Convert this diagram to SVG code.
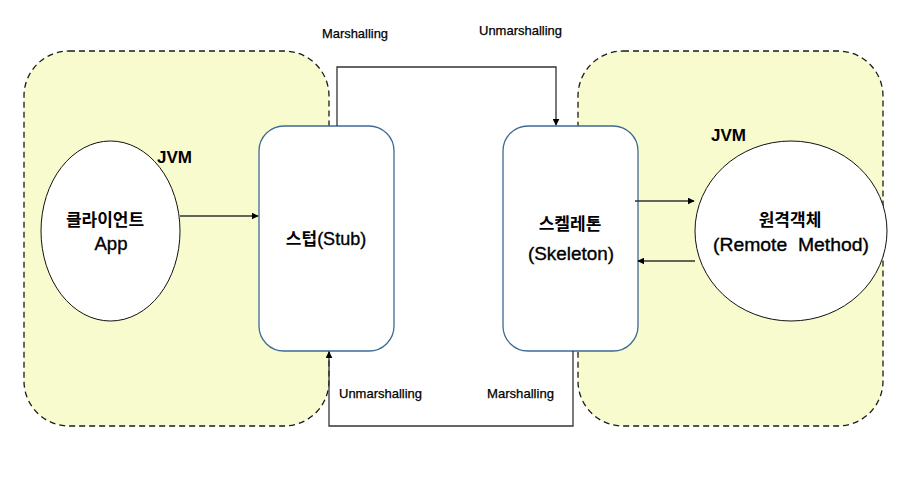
<svg xmlns="http://www.w3.org/2000/svg" width="919" height="477" viewBox="0 0 919 477">
<style>
.jvm{fill:#f8fbcd;stroke:#1a1a1a;stroke-width:1.3;stroke-dasharray:6,4}
.ell{fill:#fff;stroke:#111;stroke-width:1}
.box{fill:#fff;stroke:#3d6a96;stroke-width:1.3}
.con{fill:none;stroke:#333;stroke-width:1.3}
.t{font-family:"Liberation Sans","Noto Sans CJK KR",sans-serif;fill:#000}
.lbl{font-size:13px;stroke:#000;stroke-width:0.25}
.big{font-size:18px;stroke:#000;stroke-width:0.35}
.kr{font-family:"Noto Sans CJK KR","Liberation Sans",sans-serif;font-weight:bold;font-size:17px;stroke:none}
.jv{font-weight:bold;font-size:17px}
</style>
<defs>
<marker id="arr" viewBox="0 0 10 10" refX="9" refY="5" markerWidth="7" markerHeight="7" orient="auto" markerUnits="userSpaceOnUse">
<path d="M0,0L10,5L0,10z" fill="#000"/>
</marker>
</defs>
<g id="jvm-left"><rect class="jvm" x="24" y="51" width="305" height="375" rx="45" ry="45"/><text class="t jv" x="157" y="163">JVM</text></g>
<g id="jvm-right"><rect class="jvm" x="578" y="51" width="305" height="375" rx="45" ry="45"/><text class="t jv" x="711" y="141">JVM</text></g>
<g id="client"><ellipse class="ell" cx="110.5" cy="231" rx="69.5" ry="90"/><text class="t kr" x="105" y="226" text-anchor="middle">클라이언트</text><text class="t big" x="111" y="250" text-anchor="middle" textLength="33" lengthAdjust="spacingAndGlyphs">App</text></g>
<g id="remote"><ellipse class="ell" cx="791" cy="231" rx="96" ry="90"/><text class="t kr" x="790" y="226" text-anchor="middle">원격객체</text><text class="t big" x="791" y="251" text-anchor="middle" textLength="156" lengthAdjust="spacingAndGlyphs" xml:space="preserve">(Remote  Method)</text></g>
<g id="stub"><rect class="box" x="259" y="126" width="135" height="225" rx="25" ry="25"/><text class="t big" x="326" y="245" text-anchor="middle"><tspan class="kr" style="font-size:17px">스텁</tspan>(Stub)</text></g>
<g id="skeleton"><rect class="box" x="503" y="126" width="135" height="225" rx="25" ry="25"/><text class="t kr" x="570" y="230" text-anchor="middle">스켈레톤</text><text class="t big" x="571" y="260" text-anchor="middle" textLength="86" lengthAdjust="spacingAndGlyphs">(Skeleton)</text></g>
<g id="connectors">
<line class="con" x1="180" y1="216" x2="258" y2="216" marker-end="url(#arr)"/>
<polyline class="con" points="337,126 337,67 556,67 556,125" marker-end="url(#arr)"/>
<polyline class="con" points="573,351 573,426 329,426 329,352" marker-end="url(#arr)"/>
<line class="con" x1="635" y1="201" x2="694" y2="201" marker-end="url(#arr)"/>
<line class="con" x1="695" y1="261" x2="638" y2="261" marker-end="url(#arr)"/>
<text class="t lbl" x="322" y="38" textLength="66" lengthAdjust="spacingAndGlyphs">Marshalling</text>
<text class="t lbl" x="479" y="35" textLength="83" lengthAdjust="spacingAndGlyphs">Unmarshalling</text>
<text class="t lbl" x="339" y="398" textLength="83" lengthAdjust="spacingAndGlyphs">Unmarshalling</text>
<text class="t lbl" x="487" y="398" textLength="67" lengthAdjust="spacingAndGlyphs">Marshalling</text>
</g>
</svg>
